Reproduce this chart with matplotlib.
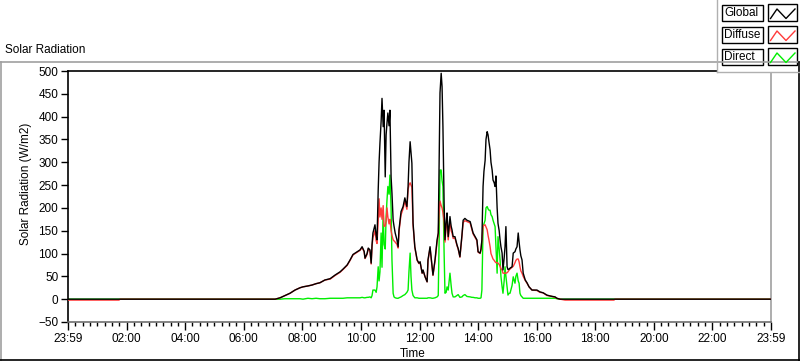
import matplotlib
matplotlib.use("Agg")
import matplotlib.pyplot as plt
from matplotlib.patches import Rectangle
from matplotlib.lines import Line2D

plt.rcParams['font.family'] = ['Liberation Sans', 'DejaVu Sans']

# ---- data (time in hours from the 23:59 start, values in W/m2) ----
time_h = [0.00, 1.74, 1.78, 7.07, 7.24, 7.41, 7.58, 7.75, 7.92, 8.02, 8.19, 8.33, 8.47, 8.60, 8.77,
          8.95, 9.12, 9.29, 9.39, 9.53, 9.63, 9.73, 9.80, 9.87, 9.97, 10.04, 10.11, 10.14, 10.21,
          10.25, 10.31, 10.35, 10.38, 10.41, 10.48, 10.52, 10.55, 10.59, 10.62, 10.65, 10.69, 10.72,
          10.76, 10.79, 10.83, 10.86, 10.89, 10.92, 10.96, 10.99, 11.03, 11.06, 11.10, 11.13, 11.17,
          11.23, 11.27, 11.30, 11.37, 11.44, 11.50, 11.57, 11.61, 11.64, 11.68, 11.71, 11.74, 11.78,
          11.84, 11.92, 11.98, 12.02, 12.09, 12.12, 12.19, 12.26, 12.29, 12.36, 12.43, 12.46, 12.53,
          12.60, 12.64, 12.67, 12.70, 12.74, 12.77, 12.80, 12.84, 12.87, 12.91, 12.94, 12.98, 13.04,
          13.08, 13.11, 13.15, 13.21, 13.28, 13.32, 13.38, 13.45, 13.49, 13.55, 13.62, 13.73, 13.79,
          13.83, 13.90, 13.96, 14.00, 14.07, 14.10, 14.13, 14.17, 14.20, 14.24, 14.27, 14.31, 14.34,
          14.37, 14.41, 14.44, 14.48, 14.51, 14.55, 14.58, 14.61, 14.65, 14.68, 14.72, 14.75, 14.78,
          14.82, 14.85, 14.89, 14.92, 14.95, 14.99, 15.02, 15.06, 15.09, 15.16, 15.20, 15.26, 15.29,
          15.33, 15.37, 15.40, 15.43, 15.46, 15.50, 15.54, 15.61, 15.67, 15.74, 15.84, 16.01, 16.11,
          16.22, 16.35, 16.46, 16.63, 16.69, 16.80, 16.97, 18.64, 18.67, 24.00]

global_wm2 = [0, 0, 0, 0, 3, 8, 13, 20, 25, 27, 29, 31, 34, 36, 42,
              45, 53, 60, 66, 75, 86, 98, 101, 104, 108, 115, 105, 90, 100,
              112, 108, 79, 120, 145, 163, 140, 130, 239, 300, 342, 390, 440,
              378, 414, 268, 360, 386, 408, 380, 414, 268, 232, 173, 160, 145,
              130, 115, 152, 192, 203, 222, 203, 247, 300, 345, 320, 298, 167,
              115, 86, 79, 82, 57, 64, 49, 38, 86, 115, 71, 53, 86,
              130, 145, 304, 452, 495, 466, 378, 211, 130, 170, 189, 137, 181,
              160, 152, 137, 137, 119, 111, 93, 141, 173, 177, 173, 170, 155,
              145, 137, 130, 104, 101, 110, 130, 247, 280, 304, 350, 367, 360,
              345, 327, 300, 283, 261, 255, 247, 270, 200, 166, 150, 130, 115,
              101, 64, 90, 115, 159, 71, 65, 66, 68, 71, 101, 104, 110,
              115, 145, 125, 108, 95, 86, 57, 42, 36, 27, 20, 20, 16,
              14, 9, 7, 5, 2, 0, 0, 0, 0, 0]

diffuse_wm2 = [-2, -2, 0, 0, 3, 8, 13, 20, 25, 27, 29, 31, 34, 36, 42,
               44, 52, 59, 65, 74, 85, 97, 100, 103, 107, 113, 104, 89, 98,
               110, 105, 77, 115, 135, 150, 128, 122, 170, 220, 180, 200, 175,
               205, 160, 160, 170, 200, 180, 165, 175, 150, 140, 130, 128, 125,
               120, 112, 148, 185, 198, 215, 197, 240, 250, 255, 250, 245, 162,
               113, 85, 78, 81, 57, 63, 49, 38, 84, 112, 70, 52, 84,
               125, 140, 190, 215, 205, 200, 190, 170, 125, 160, 175, 130, 170,
               150, 145, 133, 134, 117, 110, 92, 138, 168, 172, 170, 167, 152,
               143, 135, 128, 103, 100, 108, 128, 159, 162, 163, 158, 152, 140,
               130, 115, 100, 93, 88, 85, 82, 80, 80, 79, 76, 72, 67,
               64, 57, 57, 57, 57, 58, 60, 64, 66, 70, 72, 80, 85,
               88, 88, 82, 71, 62, 57, 50, 41, 35, 27, 20, 19, 15,
               14, 8, 7, 4, 2, 0, -2, -2, 0, 0]

direct_wm2 = [0, 0, 0, 0, 0, 1, 1, 1, 1, 0, 2, 1, 2, 1, 1,
              2, 2, 2, 2, 3, 3, 3, 3, 3, 3, 4, 3, 3, 4,
              4, 5, 3, 8, 20, 20, 15, 27, 71, 40, 60, 145, 70,
              195, 120, 110, 180, 217, 247, 230, 272, 200, 86, 13, 5, 3,
              2, 2, 3, 5, 8, 10, 15, 20, 60, 101, 50, 20, 8,
              3, 3, 2, 2, 2, 2, 2, 2, 3, 3, 2, 2, 3,
              5, 8, 130, 283, 283, 260, 247, 101, 13, 15, 27, 20, 57,
              30, 13, 5, 5, 8, 10, 4, 5, 8, 10, 6, 5, 4,
              4, 3, 3, 2, 2, 3, 20, 159, 165, 173, 200, 203, 198,
              195, 195, 185, 181, 173, 165, 159, 115, 57, 137, 110, 86, 50,
              27, 13, 40, 71, 50, 27, 9, 13, 13, 30, 49, 35, 50,
              57, 40, 35, 13, 8, 5, 2, 2, 2, 2, 2, 2, 2,
              2, 2, 2, 2, 1, 0, 0, 0, 0, 0]

series_names = ['Global', 'Diffuse', 'Direct']
series_colors = ['#000000', '#ff3a3a', '#00ee00']
x_tick_hours = [0, 2, 4, 6, 8, 10, 12, 14, 16, 18, 20, 22, 24]
x_tick_labels = ['23:59', '02:00', '04:00', '06:00', '08:00', '10:00', '12:00',
                 '14:00', '16:00', '18:00', '20:00', '22:00', '23:59']
y_ticks = [-50, 0, 50, 100, 150, 200, 250, 300, 350, 400, 450, 500]

assert len(time_h) == len(global_wm2) == len(diffuse_wm2) == len(direct_wm2)

W, H = 800, 361
fig = plt.figure(figsize=(W / 100, H / 100), dpi=100)
fig.patch.set_facecolor('white')

L, R, T, B = 68, 771, 71, 322
ax = fig.add_axes([L / W, (H - B) / H, (R - L) / W, (B - T) / H])
ax.set_facecolor('white')

ax.plot(time_h, direct_wm2, color=series_colors[2], lw=1.0, zorder=2)
ax.plot(time_h, diffuse_wm2, color=series_colors[1], lw=1.0, zorder=3)
ax.plot(time_h, global_wm2, color=series_colors[0], lw=1.0, zorder=4)

ax.set_xlim(0, 24)
ax.set_ylim(-50, 500)
ax.set_xticks(x_tick_hours)
ax.set_xticklabels(x_tick_labels)
ax.set_xticks([i * 0.25 for i in range(97)], minor=True)
ax.set_yticks(y_ticks)
ax.tick_params(axis='both', which='major', labelsize=8.5, direction='out', color='black',
               width=1, pad=2)
ax.tick_params(axis='x', which='major', length=6)
ax.tick_params(axis='y', which='major', length=5)
ax.tick_params(axis='x', which='minor', length=3, width=1, color='black')

for s in ['left', 'top']:
    ax.spines[s].set_color('black')
    ax.spines[s].set_linewidth(1.2)
ax.spines['right'].set_color('#a0a0a0')
ax.spines['bottom'].set_color('#707070')
ax.spines['right'].set_linewidth(1.2)
ax.spines['bottom'].set_linewidth(1.2)

ax.set_ylabel('Solar Radiation (W/m2)', fontsize=8.5)
ax.yaxis.set_label_coords(-0.051, 0.55)
ax.set_xlabel('Time', fontsize=8.5, va='center')
ax.xaxis.set_label_coords(0.49, -0.128)

# ---- overlay for frame, title and legend (pixel coordinates) ----
ov = fig.add_axes([0, 0, 1, 1], zorder=10)
ov.set_xlim(0, W)
ov.set_ylim(H, 0)
ov.axis('off')
ov.patch.set_alpha(0)

ov.add_line(Line2D([0, W], [62, 62], color='#a0a0a0', lw=1.2))
ov.add_line(Line2D([1, 1], [62, H], color='#a0a0a0', lw=1.2))
ov.add_line(Line2D([0, W], [359.5, 359.5], color='black', lw=1.2))
ov.add_line(Line2D([799, 799], [62, H], color='black', lw=1.2))
ov.text(5, 50, 'Solar Radiation', fontsize=8.5, va='center', ha='left')

# legend
ov.add_patch(Rectangle((717, 0), 83, 72, facecolor='white', edgecolor='none'))
ov.add_line(Line2D([717, 717], [0, 72], color='#b0b0b0', lw=1.0))
ov.add_line(Line2D([717, 800], [72, 72], color='#b0b0b0', lw=1.0))
for i, (name, col) in enumerate(zip(series_names, series_colors)):
    y0 = 5 + 22 * i
    ov.add_patch(Rectangle((721.5, y0), 41.5, 16, facecolor='white', edgecolor='black', lw=1.0))
    ov.text(724, y0 + 8.3, name, fontsize=8.5, va='center', ha='left')
    ov.add_patch(Rectangle((768, y0 - 1), 29, 17, facecolor='white', edgecolor='black', lw=1.0))
    ov.add_line(Line2D([770.5, 777, 786, 795], [y0 + 13.5, y0 + 4, y0 + 13.5, y0 + 4],
                       color=col, lw=1.0))

fig.savefig('out.png', dpi=100, facecolor='white')
